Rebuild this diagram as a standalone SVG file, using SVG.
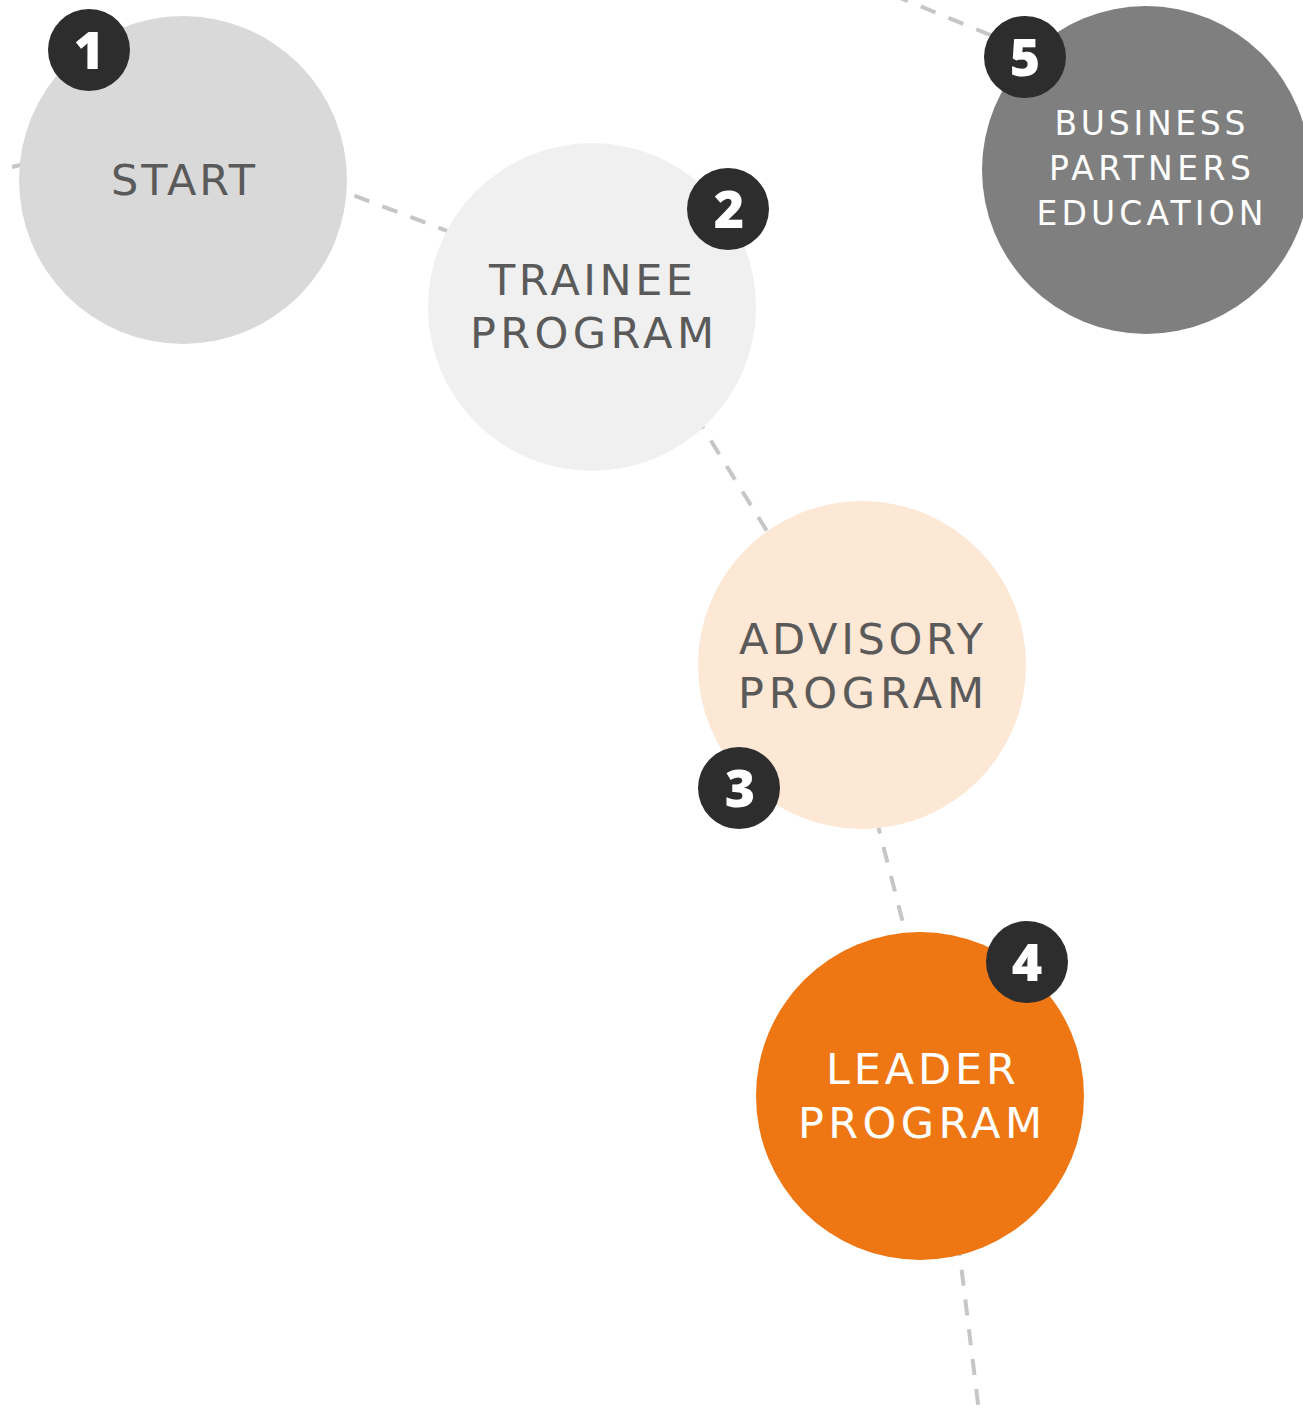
<svg xmlns="http://www.w3.org/2000/svg" width="1303" height="1417" viewBox="0 0 1303 1417">
<style>
.conn{stroke:#c6c6c6;stroke-width:4;stroke-dasharray:16 14;fill:none}
.lbl{font-family:"DejaVu Sans","Open Sans","Liberation Sans",sans-serif;font-size:43px;text-anchor:middle;fill:#5a5a5a}
.lbl.w{fill:#ffffff}
.lbl.s{font-size:33px}
.badge circle{fill:#2d2d2d}
.badge text{font-family:"Open Sans","Liberation Sans",sans-serif;font-weight:800;font-size:52px;fill:#ffffff;text-anchor:middle}
</style>
<rect width="1303" height="1417" fill="#ffffff"/>
<g id="connectors">
<line class="conn" x1="12" y1="167" x2="40" y2="160"/>
<line class="conn" x1="345" y1="192" x2="455" y2="234" stroke-dashoffset="-10"/>
<line class="conn" x1="695" y1="415" x2="770" y2="536"/>
<line class="conn" x1="876" y1="818" x2="910" y2="950"/>
<line class="conn" x1="958" y1="1240" x2="980" y2="1420"/>
<line class="conn" x1="893" y1="-5" x2="1000" y2="39"/>
</g>
<g id="node-start">
<circle cx="183" cy="180" r="164" fill="#d9d9d9"/>
<text class="lbl" x="183" y="195" textLength="144" lengthAdjust="spacing">START</text>
<g class="badge"><circle cx="89" cy="50" r="41"/><text x="89" y="69">1</text></g>
</g>
<g id="node-trainee">
<circle cx="592" cy="307" r="164" fill="#f0f0f0"/>
<text class="lbl" x="591" y="295" textLength="204" lengthAdjust="spacing">TRAINEE</text>
<text class="lbl" x="592" y="348" textLength="244" lengthAdjust="spacing">PROGRAM</text>
<g class="badge"><circle cx="728" cy="209" r="41"/><text x="729" y="228">2</text></g>
</g>
<g id="node-advisory">
<circle cx="862" cy="665" r="164" fill="#fde7d5"/>
<text class="lbl" x="861" y="654" textLength="244" lengthAdjust="spacing">ADVISORY</text>
<text class="lbl" x="861" y="708" textLength="246" lengthAdjust="spacing">PROGRAM</text>
<g class="badge"><circle cx="739" cy="788" r="41"/><text x="740" y="807">3</text></g>
</g>
<g id="node-leader">
<circle cx="920" cy="1096" r="164" fill="#ee7714"/>
<text class="lbl w" x="921" y="1084" textLength="190" lengthAdjust="spacing">LEADER</text>
<text class="lbl w" x="920" y="1138" textLength="244" lengthAdjust="spacing">PROGRAM</text>
<g class="badge"><circle cx="1027" cy="962" r="41"/><text x="1027" y="981">4</text></g>
</g>
<g id="node-business">
<circle cx="1146" cy="170" r="164" fill="#7f7f7f"/>
<text class="lbl w s" x="1150" y="135" textLength="191" lengthAdjust="spacing">BUSINESS</text>
<text class="lbl w s" x="1150" y="180" textLength="202" lengthAdjust="spacing">PARTNERS</text>
<text class="lbl w s" x="1150" y="225" textLength="227" lengthAdjust="spacing">EDUCATION</text>
<g class="badge"><circle cx="1025" cy="57" r="41"/><text x="1025" y="76">5</text></g>
</g>
</svg>
